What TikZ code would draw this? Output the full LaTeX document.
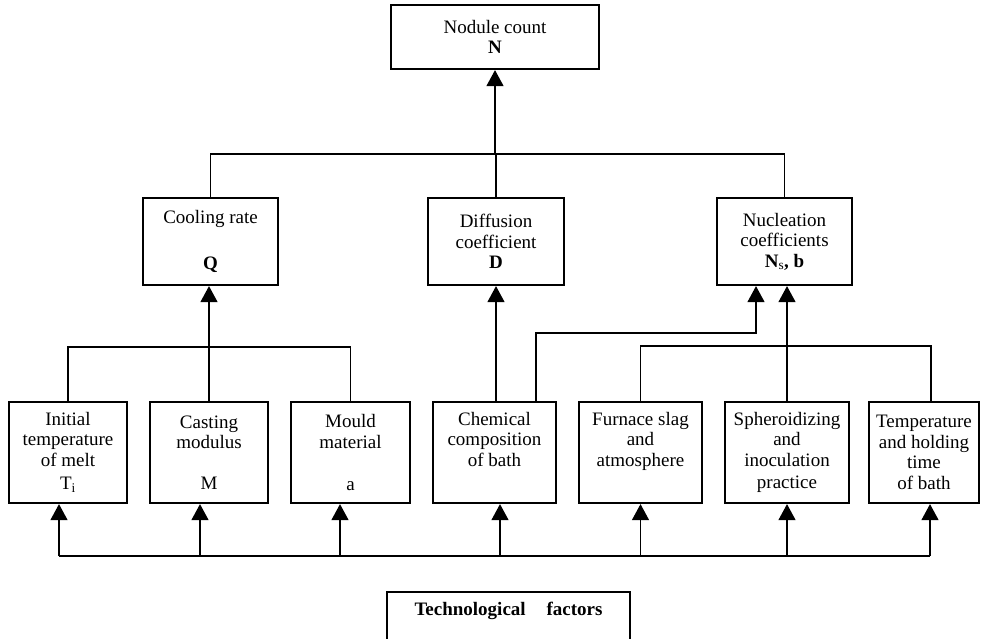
\documentclass[tikz,border=0pt]{standalone}
\usepackage{fontspec}
\setmainfont{Liberation Serif}
\usetikzlibrary{arrows.meta}
\begin{document}
\begin{tikzpicture}[
    x=1pt, y=-1pt,
    box/.style={
      draw,
      line width=2.2pt,
      align=center,
      inner sep=0pt,
      font=\fontsize{19}{20.5}\selectfont
    },
    link/.style={
      line width=1.2pt
    },
    arr/.style={
      link,
      -{Triangle[width=17pt,length=16pt]}
    }
  ]

    \useasboundingbox (0,0) rectangle (981,638);

    % Result
    \node[box, minimum width=208pt, minimum height=64pt] (nod) at (495,37) {Nodule count\\\textbf{N}};

    % Parameters
    \node[box, minimum width=135pt, minimum height=87pt] (cool) at (210.5,241.5) {Cooling rate\\[25pt]\textbf{Q}};
    \node[box, minimum width=136pt, minimum height=87pt] (diff) at (496,241.5) {Diffusion\\coefficient\\\textbf{D}};
    \node[box, minimum width=135pt, minimum height=87pt] (nucl) at (784.5,241.5) {Nucleation\\coefficients\\\textbf{N}\textsubscript{s}\textbf{, b}};

    % Factors
    \node[box, minimum width=118pt, minimum height=101pt] (init) at (68,452.5) {Initial\\temperature\\of melt\\[3pt]T\textsubscript{i}};
    \node[box, minimum width=118pt, minimum height=101pt] (cast) at (209,452.5) {Casting\\modulus\\[20.5pt]M};
    \node[box, minimum width=119pt, minimum height=101pt] (mould) at (350.5,452.5) {Mould\\material\\[21.5pt]a};
    \node[box, minimum width=123pt, minimum height=101pt] (chem) at (494.5,452.5) {Chemical\\composition\\of bath\\\strut};
    \node[box, minimum width=123pt, minimum height=101pt] (furn) at (640.5,452.5) {Furnace slag\\and\\atmosphere\\\strut};
    \node[box, minimum width=124pt, minimum height=101pt] (sphe) at (787,452.5) {Spheroidizing\\and\\inoculation\\[2pt]practice};
    \node[box, minimum width=110pt, minimum height=101pt] (temp) at (924,452.5) {Temperature\\and holding\\time\\of bath};

    \node[box, minimum width=243pt, minimum height=60pt] (tech) at (508.5,622) {\textbf{Technological\hspace{1.1em}factors}\\\strut};

    % Bus points
    \coordinate (top) at (495,154);
    \coordinate (left) at (209,347);
    \coordinate (mid) at (756,333);
    \coordinate (right) at (787,346);
    \coordinate (base) at (0,556);

    % Upper level
    \draw[link] (cool.north) |- (top) -| (nucl.north);
    \draw[link] (diff.north) -- (diff.north |- top);
    \draw[arr] (top) -- (nod.south);

    % Cooling rate group
    \draw[link] (init.north) |- (left) -| (mould.north);
    \draw[link] (cast.north) -- (cast.north |- left);
    \draw[arr] (left) -- (left |- cool.south);

    % Diffusion and nucleation
    \draw[arr] (diff.south |- chem.north) -- (diff.south);
    \draw[arr] ([xshift=41.5pt]chem.north) |- (mid) -- (mid |- nucl.south);
    \draw[link] (furn.north) |- (right) -| ([xshift=7pt]temp.north);
    \draw[arr] (sphe.north) -- (sphe.north |- nucl.south);

    % Technological factors line
    \draw[link] ([xshift=-9pt]init.south |- base) -- ([xshift=6pt]temp.south |- base);
    \foreach \n/\s in {init/-9,cast/-9,mould/-10.5,chem/5.5,furn/0,sphe/0,temp/6} {
      \draw[arr] ([xshift=\s pt]\n.south |- base) -- ([xshift=\s pt]\n.south);
    }

  \end{tikzpicture}
\end{document}
